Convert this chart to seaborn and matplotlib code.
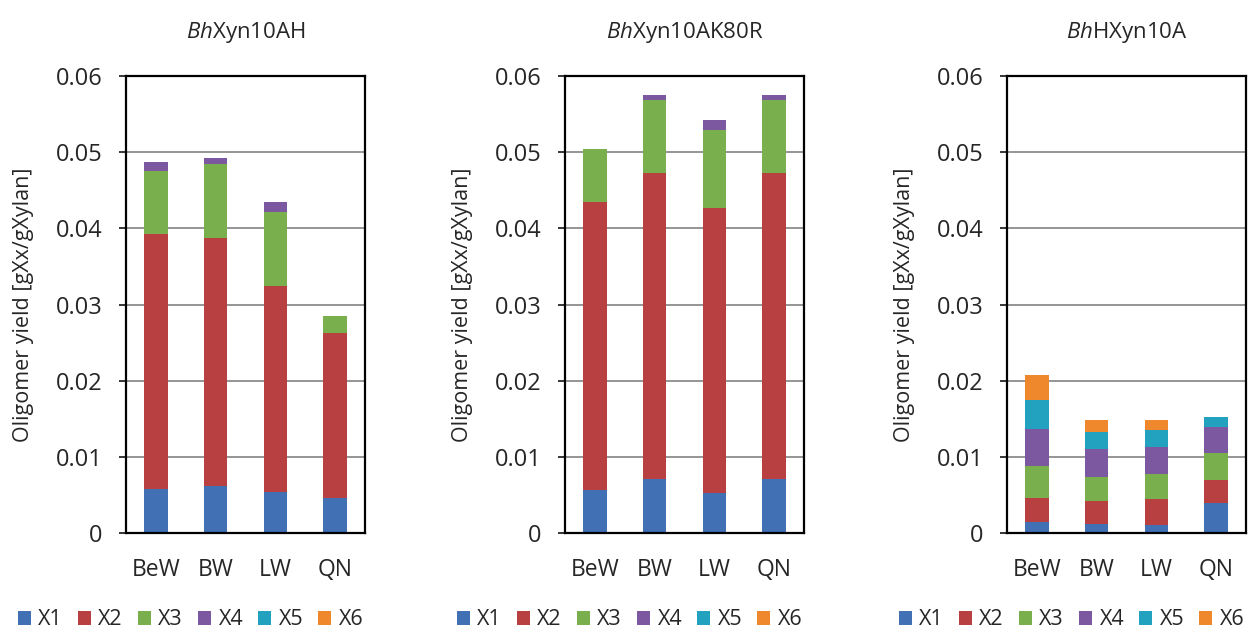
import numpy as np
import pandas as pd
import matplotlib
matplotlib.use('Agg')
import matplotlib.pyplot as plt
from matplotlib.patches import Patch
import seaborn as sns

# ============================================================================
# DATA
# ============================================================================

substrates = ['BeW', 'BW', 'LW', 'QN']
oligomers = ['X1', 'X2', 'X3', 'X4', 'X5', 'X6']
titles = [r'$\it{Bh}$Xyn10AH', r'$\it{Bh}$Xyn10AK80R', r'$\it{Bh}$HXyn10A']

# BhXyn10AH
ah_x1 = [0.0058, 0.0062, 0.0054, 0.0046]
ah_x2 = [0.0335, 0.0325, 0.0270, 0.0216]
ah_x3 = [0.0082, 0.0097, 0.0098, 0.0023]
ah_x4 = [0.0012, 0.0008, 0.0013, 0.0]
ah_x5 = [0.0, 0.0, 0.0, 0.0]
ah_x6 = [0.0, 0.0, 0.0, 0.0]

# BhXyn10AK80R
k80r_x1 = [0.0056, 0.0071, 0.0053, 0.0071]
k80r_x2 = [0.0379, 0.0402, 0.0374, 0.0402]
k80r_x3 = [0.0069, 0.0095, 0.0102, 0.0095]
k80r_x4 = [0.0, 0.0007, 0.0013, 0.0007]
k80r_x5 = [0.0, 0.0, 0.0, 0.0]
k80r_x6 = [0.0, 0.0, 0.0, 0.0]

# BhHXyn10A
h_x1 = [0.0014, 0.0012, 0.0011, 0.0040]
h_x2 = [0.0032, 0.0030, 0.0033, 0.0029]
h_x3 = [0.0042, 0.0032, 0.0034, 0.0036]
h_x4 = [0.0049, 0.0036, 0.0035, 0.0034]
h_x5 = [0.0038, 0.0023, 0.0022, 0.0013]
h_x6 = [0.0032, 0.0016, 0.0013, 0.0]

panels = [
    [ah_x1, ah_x2, ah_x3, ah_x4, ah_x5, ah_x6],
    [k80r_x1, k80r_x2, k80r_x3, k80r_x4, k80r_x5, k80r_x6],
    [h_x1, h_x2, h_x3, h_x4, h_x5, h_x6],
]

colors = ['#4170B4', '#B84040', '#7AAF4E', '#7B58A0', '#22A2BF', '#EF882C']

# ============================================================================
# PLOT
# ============================================================================

sns.set_style('white')
plt.rcParams['font.family'] = ['Open Sans', 'DejaVu Sans']
plt.rcParams['mathtext.fontset'] = 'custom'
plt.rcParams['mathtext.rm'] = 'Open Sans'
plt.rcParams['mathtext.it'] = 'Open Sans:italic'

fig = plt.figure(figsize=(12.51, 6.32), dpi=100)
lefts = [126, 565, 1007]

for i, series in enumerate(panels):
    ax = fig.add_axes([lefts[i] / 1251, 99 / 632, 239 / 1251, 457 / 632])

    df = pd.DataFrame(dict(zip(oligomers, series)), index=substrates)
    bottom = np.zeros(len(substrates))
    for j, name in enumerate(oligomers):
        sns.barplot(x=substrates, y=df[name].values, color=colors[j],
                    width=0.39, bottom=bottom, ax=ax, linewidth=0,
                    saturation=1)
        bottom = bottom + df[name].values

    ax.set_ylim(0, 0.06)
    ax.set_xlim(-0.5, 3.5)
    ax.set_yticks(np.arange(0, 0.061, 0.01))
    ax.set_yticklabels(['0', '0.01', '0.02', '0.03', '0.04', '0.05', '0.06'])
    for y in np.arange(0.01, 0.051, 0.01):
        ax.axhline(y, color='#8c8c8c', linewidth=1.3, zorder=0)

    for s in ax.spines.values():
        s.set_visible(True)
        s.set_color('black')
        s.set_linewidth(1.6)

    ax.tick_params(axis='y', length=5, width=1.3, direction='out',
                   labelsize=17, pad=12, left=True)
    ax.tick_params(axis='x', length=0, labelsize=16.5, pad=18)

    ax.set_ylabel('Oligomer yield [gXx/gXylan]', fontsize=15.5)
    ax.yaxis.set_label_coords(-0.385, 0.5)
    ax.set_xlabel('')
    ax.text(0.5, 1.095, titles[i], transform=ax.transAxes, ha='center',
            va='center', fontsize=16)

    handles = [Patch(facecolor=c, edgecolor='none') for c in colors]
    ax.legend(handles, oligomers, loc='center', bbox_to_anchor=(0.27, -0.19),
              ncol=6, frameon=False, fontsize=15.5, handlelength=0.6,
              handleheight=0.6, handletextpad=0.35, columnspacing=0.7)

plt.savefig('out.png', dpi=100)
